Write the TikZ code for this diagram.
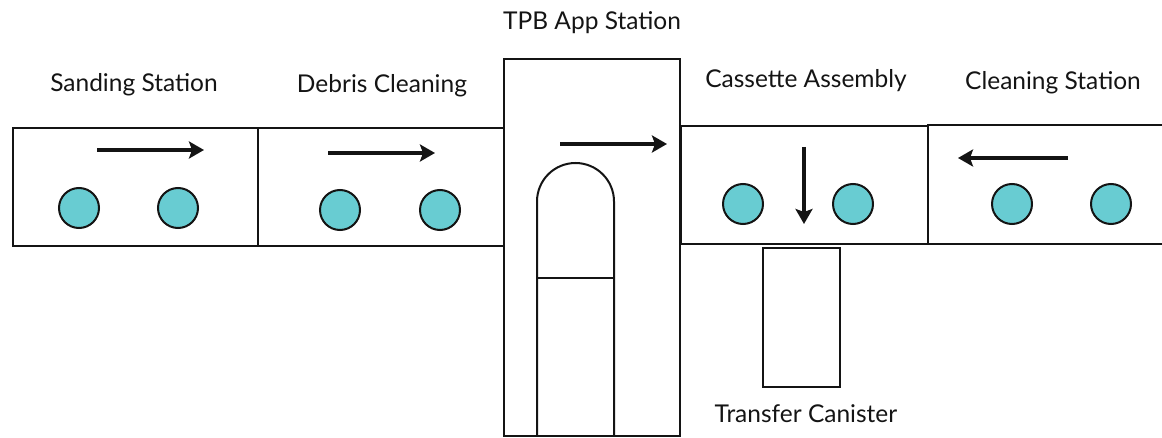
\documentclass[tikz,border=0pt]{standalone}
\usepackage{fontspec}
\setmainfont{Lato}
\usetikzlibrary{arrows.meta}
\definecolor{roller}{RGB}{104,204,210}
\definecolor{ink}{RGB}{20,20,20}
\tikzset{
  station/.style={draw=ink, line width=2pt, minimum width=#1, minimum height=118pt, inner sep=0pt},
  roll/.style={circle, draw=ink, line width=2pt, fill=roller, minimum size=40pt, inner sep=0pt},
  flow/.style={draw=ink, line width=4pt, -{Stealth[length=15pt,width=17pt,inset=3pt]}},
  lbl/.style={font=\fontsize{24.5}{29}\selectfont, text=ink, anchor=base, inner sep=0pt},
  part/.style={draw=ink, line width=2pt}
}
\begin{document}
\begin{tikzpicture}[x=1pt,y=-1pt]
\useasboundingbox (0,0) rectangle (1162,438);
% stations
\node[station=245pt] (sand) at (135.5,187) {};
\node[station=246pt] (debris) at (381,187) {};
\node[station=247pt] (cass) at (804.5,185) {};
\draw[part] (1162,125) -- (928,125) -- (928,244) -- (1162,244);
\node[part, minimum width=176pt, minimum height=377pt, inner sep=0pt, fill=white] (tpb) at (592,247.5) {};
% TPB inner arch
\draw[part] (537,436) -- (537,201.5) arc[start angle=180, end angle=360, radius=38.5] -- (614,436);
\draw[part] (537,278) -- (614,278);
\draw[part] (537,436) -- (614,436);
% transfer canister
\node[part, minimum width=77pt, minimum height=139pt, inner sep=0pt] (can) at (801.5,317.5) {};
% rollers
\node[roll] (r1) at (79,208) {};
\node[roll] (r2) at (178,208) {};
\node[roll] (r3) at (340,210) {};
\node[roll] (r4) at (440,210) {};
\node[roll] (r5) at (743,204) {};
\node[roll] (r6) at (853,204) {};
\node[roll] (r7) at (1012,204) {};
\node[roll] (r8) at (1111,204) {};
% flow arrows
\coordinate (a1s) at (97,150); \coordinate (a1e) at (204,150);
\coordinate (a2s) at (328,153); \coordinate (a2e) at (435,153);
\coordinate (a3s) at (560,144); \coordinate (a3e) at (667,144);
\coordinate (a4s) at (804,147); \coordinate (a4e) at (804,224);
\coordinate (a5s) at (1068,158); \coordinate (a5e) at (958,158);
\draw[flow] (a1s) -- (a1e);
\draw[flow] (a2s) -- (a2e);
\draw[flow] (a3s) -- (a3e);
\draw[flow] (a4s) -- (a4e);
\draw[flow] (a5s) -- (a5e);
% labels
\node[lbl] (l1) at (134,92) {Sanding Station};
\node[lbl] (l2) at (382,93) {Debris Cleaning};
\node[lbl] (l3) at (592,30) {TPB App Station};
\node[lbl] (l4) at (806,88) {Cassette Assembly};
\node[lbl] (l5) at (1053,90) {Cleaning Station};
\node[lbl] (l6) at (806,422) {Transfer Canister};
\end{tikzpicture}
\end{document}
